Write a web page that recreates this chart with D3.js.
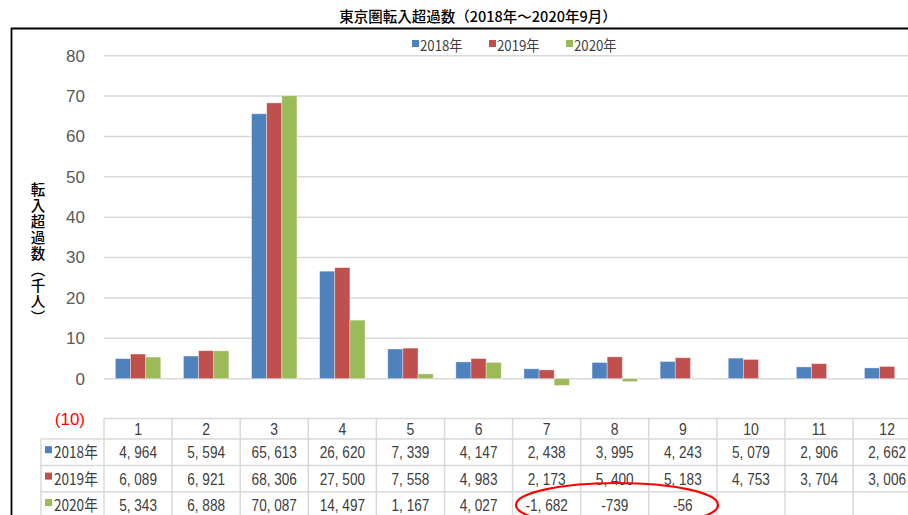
<!DOCTYPE html>
<html><head><meta charset="utf-8">
<script src="https://cdn.jsdelivr.net/npm/d3@7"></script>
<style>body{margin:0;background:#fff;overflow:hidden}svg{display:block}</style>
</head><body><svg id="c" width="908" height="515"></svg>
<script>
const title = "東京圏転入超過数（2018年～2020年9月）";
const yTitle = "転入超過数（千人）";
const months = ["1","2","3","4","5","6","7","8","9","10","11","12"];
const seriesNames = ["2018年","2019年","2020年"];
const colors = ["#4F81BD","#C0504D","#9BBB59"];
const v2018 = [4964,5594,65613,26620,7339,4147,2438,3995,4243,5079,2906,2662];
const v2019 = [6089,6921,68306,27500,7558,4983,2173,5400,5183,4753,3704,3006];
const v2020 = [5343,6888,70087,14497,1167,4027,-1682,-739,-56,null,null,null];
const yTicks = [-10,0,10,20,30,40,50,60,70,80];
const values = [v2018,v2019,v2020];

const svg = d3.select("#c");
const font = "'Noto Sans CJK JP','Noto Sans',sans-serif";
const numFont = "'Liberation Sans',Arial,sans-serif";

const x0 = d3.scaleBand().domain(months).range([104, 104 + 12*68.1]);
const x1 = d3.scaleBand().domain(d3.range(3)).range([0, x0.bandwidth()]).paddingInner(0).paddingOuter(0.75);
const y = d3.scaleLinear().domain([-10, 80]).range([419, 55.7]);

// frame
svg.append("path").attr("d","M11.5,515 V28.5 H908").attr("fill","none").attr("stroke","#000").attr("stroke-width",1.8);

// title
svg.append("text").attr("x",478).attr("y",22).attr("text-anchor","middle")
  .attr("font-family",font).attr("font-size",14.5).attr("font-weight",500).attr("fill","#000").text(title);

// gridlines
svg.append("g").selectAll("line").data(yTicks.filter(d=>d>=0)).join("line")
  .attr("x1",104).attr("x2",908).attr("y1",d=>y(d)).attr("y2",d=>y(d))
  .attr("stroke","#d9d9d9").attr("stroke-width",1.5);

// y axis
const yAxis = svg.append("g").attr("transform","translate(104,0)")
  .call(d3.axisLeft(y).tickValues(yTicks).tickSize(0).tickPadding(19)
    .tickFormat(d => d < 0 ? "(" + Math.abs(d) + ")" : d));
yAxis.select(".domain").remove();
yAxis.selectAll("text").attr("font-family",numFont).attr("font-size",17)
  .attr("fill",d => d < 0 ? "#ff0000" : "#595959");
yAxis.selectAll(".tick").filter(d=>d<0).select("text").attr("dy","0.3em");

// y title vertical
svg.append("text").attr("transform","translate(38,182)")
  .style("writing-mode","vertical-rl").attr("font-family",font).attr("font-size",14.5)
  .attr("font-weight",500).attr("fill","#000").attr("letter-spacing",1.5).text(yTitle);

// bars
const groups = svg.append("g").selectAll("g").data(months).join("g")
  .attr("transform", d => `translate(${x0(d)},0)`);
groups.selectAll("rect").data((m,i) => values.map((s,k)=>({k, v: s[i]})).filter(d=>d.v!==null))
  .join("rect")
  .attr("x", d => x1(d.k)).attr("width", x1.bandwidth())
  .attr("y", d => y(Math.max(0, d.v/1000)))
  .attr("height", d => Math.abs(y(d.v/1000) - y(0)))
  .attr("fill", d => colors[d.k])
  .attr("stroke", "rgba(255,255,255,0.45)").attr("stroke-width", 0.8);

// legend
const legX = [412, 489, 566];
const leg = svg.append("g").selectAll("g").data(seriesNames).join("g")
  .attr("transform",(d,i)=>`translate(${legX[i]},45)`);
leg.append("rect").attr("x",0).attr("y",-5).attr("width",7).attr("height",7).attr("fill",(d,i)=>colors[i]);
leg.append("text").attr("transform","translate(8,6) scale(0.88,1)").attr("font-family",font)
  .attr("font-size",15).attr("fill","#404040").text(d=>d);

// table
const tTop = 418.5, hH = 20.5, rH = 26.4;
const lblX = 41, tRight = x0.range()[1];
const tg = svg.append("g");
const gridC = "#d9d9d9";
tg.append("line").attr("x1",104).attr("x2",tRight).attr("y1",tTop).attr("y2",tTop).attr("stroke",gridC).attr("stroke-width",1.5);
for (let r=0;r<=3;r++){
  const yy = tTop + hH + r*rH;
  tg.append("line").attr("x1",lblX).attr("x2",tRight).attr("y1",yy).attr("y2",yy).attr("stroke",gridC).attr("stroke-width",1.5);
}
months.forEach(m=>{
  tg.append("line").attr("x1",x0(m)).attr("x2",x0(m)).attr("y1",tTop).attr("y2",515).attr("stroke",gridC).attr("stroke-width",1.5);
});
tg.append("line").attr("x1",tRight).attr("x2",tRight).attr("y1",tTop).attr("y2",515).attr("stroke",gridC).attr("stroke-width",1.5);
tg.append("line").attr("x1",lblX).attr("x2",lblX).attr("y1",tTop+hH).attr("y2",515).attr("stroke",gridC).attr("stroke-width",1.5);
tg.selectAll("text.h").data(months).join("text").attr("class","h")
  .attr("transform",d=>`translate(${x0(d)+x0.bandwidth()/2},${tTop+hH-4}) scale(0.85,1)`)
  .attr("text-anchor","middle").attr("font-family",numFont).attr("font-size",16.5).attr("fill","#404040").text(d=>d);
const fmt = v => v===null ? "" : d3.format(",")(v).replace(",", ", ").replace("−","-");
seriesNames.forEach((s,k)=>{
  const cy = tTop + hH + k*rH + rH/2 + 6;
  tg.append("rect").attr("x",45).attr("y",cy-12).attr("width",7).attr("height",7).attr("fill",colors[k]);
  tg.append("text").attr("transform",`translate(54,${cy}) scale(0.85,1)`).attr("font-family",font)
    .attr("font-size",16).attr("fill","#404040").text(s);
  tg.selectAll(null).data(months).join("text")
    .attr("transform",(m,i)=>`translate(${x0(m)+x0.bandwidth()/2},${cy}) scale(0.8,1)`)
    .attr("text-anchor","middle").attr("font-family",numFont).attr("font-size",17).attr("fill","#404040")
    .text((m,i)=>fmt(values[k][i]));
});

// red ellipse annotation
svg.append("ellipse").attr("cx",617).attr("cy",505).attr("rx",101).attr("ry",22)
  .attr("fill","none").attr("stroke","#ff0000").attr("stroke-width",2.2);
</script></body></html>
